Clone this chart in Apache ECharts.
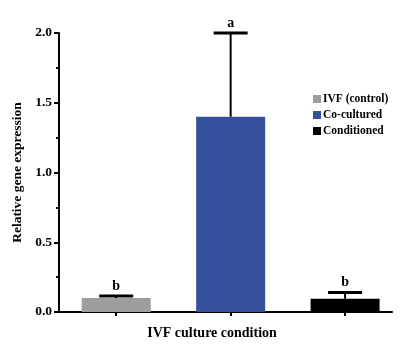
<!DOCTYPE html>
<html>
<head>
<meta charset="utf-8">
<script src="https://cdn.jsdelivr.net/npm/echarts@6/dist/echarts.min.js"></script>
<style>
html,body{margin:0;padding:0;background:#fff;}
#main{width:402px;height:352px;}
</style>
</head>
<body>
<div id="main"></div>
<script>
// data
var conditions = ['IVF (control)', 'Co-cultured', 'Conditioned'];
var positions = [1, 2, 3];
var means = [0.10, 1.40, 0.095];
var errors = [0.015, 0.60, 0.045];
var letters = ['b', 'a', 'b'];
var colors = ['#9d9d9f', '#36519c', '#000000'];
var yTicks = [0, 0.5, 1.0, 1.5, 2.0];

var serif = 'Liberation Serif';

var chart = echarts.init(document.getElementById('main'));

var series = [];
for (var i = 0; i < conditions.length; i++) {
  series.push({
    name: conditions[i],
    type: 'bar',
    barWidth: 69,
    barGap: '-100%',
    itemStyle: {color: colors[i]},
    data: [[positions[i], means[i]]]
  });
}

var errData = [];
for (var i = 0; i < conditions.length; i++) {
  errData.push([positions[i], means[i], means[i] + errors[i], i]);
}

series.push({
  type: 'custom',
  name: 'err',
  z: 5,
  data: errData,
  renderItem: function (params, api) {
    var base = api.coord([api.value(0), api.value(1)]);
    var top = api.coord([api.value(0), api.value(2)]);
    var idx = api.value(3);
    return {
      type: 'group',
      children: [
        {type: 'line', shape: {x1: base[0], y1: base[1], x2: top[0], y2: top[1]},
          style: {stroke: '#000', lineWidth: 2}},
        {type: 'line', shape: {x1: top[0] - 17, y1: top[1], x2: top[0] + 17, y2: top[1]},
          style: {stroke: '#000', lineWidth: 3}},
        {type: 'text', x: top[0], y: top[1] - 3,
          style: {text: letters[idx], fill: '#000', font: 'bold 14px "' + serif + '"',
            align: 'center', verticalAlign: 'bottom'}}
      ]
    };
  }
});

var option = {
  backgroundColor: '#fff',
  animation: false,
  grid: {left: 59, top: 33, width: 333, height: 279, containLabel: false},
  legend: {
    data: conditions,
    orient: 'vertical',
    left: 308,
    top: 88,
    icon: 'rect',
    itemWidth: 8,
    itemHeight: 8,
    itemGap: 4,
    textStyle: {fontFamily: serif, fontWeight: 'bold', fontSize: 11.5, lineHeight: 8,
      color: '#000', padding: [0, 0, 0, -3]}
  },
  xAxis: {
    type: 'value',
    min: 0.5,
    max: 3.41,
    name: 'IVF culture condition',
    nameLocation: 'middle',
    nameGap: 14,
    nameTextStyle: {fontFamily: serif, fontWeight: 'bold', fontSize: 14, color: '#000', padding: [0, 27, 0, 0]},
    splitLine: {show: false},
    axisLine: {show: true, lineStyle: {color: '#000', width: 2}},
    axisTick: {show: true, customValues: positions, length: 4, lineStyle: {color: '#000', width: 2}},
    axisLabel: {show: false}
  },
  yAxis: {
    type: 'value',
    min: 0,
    max: 2,
    interval: 0.5,
    name: 'Relative gene expression',
    nameLocation: 'middle',
    nameGap: 33,
    nameTextStyle: {fontFamily: serif, fontWeight: 'bold', fontSize: 13.5, color: '#000'},
    splitLine: {show: false},
    axisLine: {show: true, lineStyle: {color: '#000', width: 2}},
    axisTick: {show: true, length: 5, lineStyle: {color: '#000', width: 2}},
    minorTick: {show: true, splitNumber: 2, length: 3, lineStyle: {color: '#000', width: 2}},
    axisLabel: {
      margin: 7,
      fontFamily: serif, fontWeight: 'bold', fontSize: 13.5, color: '#000',
      customValues: yTicks,
      formatter: function (v) { return v.toFixed(1); }
    }
  },
  series: series
};

chart.setOption(option);
</script>
</body>
</html>
